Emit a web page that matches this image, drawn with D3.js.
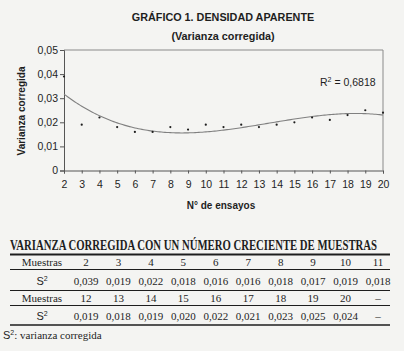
<!DOCTYPE html>
<html>
<head>
<meta charset="utf-8">
<script src="https://cdn.jsdelivr.net/npm/d3@7"></script>
<style>
  body { margin: 0; background: #f4f4f2; }
  svg { display: block; }
  .sans { font-family: 'Liberation Sans', Arial, sans-serif; fill: #1e1e1e; }
  .serif { font-family: 'Liberation Serif', 'Times New Roman', serif; fill: #1e1e1e; }
</style>
</head>
<body>
<div id="chart"></div>
<script>
// data
const ensayos = [2, 3, 4, 5, 6, 7, 8, 9, 10, 11, 12, 13, 14, 15, 16, 17, 18, 19, 20];
const varianza = [0.039, 0.019, 0.022, 0.018, 0.016, 0.016, 0.018, 0.017, 0.019, 0.018,
  0.019, 0.018, 0.019, 0.020, 0.022, 0.021, 0.023, 0.025, 0.024];
const yTicks = [0, 0.01, 0.02, 0.03, 0.04, 0.05];
const rSquared = '0,6818';
const titulo = 'GRÁFICO 1. DENSIDAD APARENTE';
const subtitulo = '(Varianza corregida)';
const tablaTitulo = 'VARIANZA CORREGIDA CON UN NÚMERO CRECIENTE DE MUESTRAS';

// dimensions
const width = 404;
const height = 351;
const plot = { left: 64, right: 383, top: 50, bottom: 170.5 };
const INK = '#1e1e1e';

const locale = d3.formatLocale({ decimal: ',', thousands: '.', grouping: [3], currency: ['', ''] });
const fmtY = d => (d === 0 ? '0' : locale.format('.2f')(d));
const fmtT = locale.format('.3f');

// least squares polynomial (excel trendline, order 3 -> R2 0.6818)
function polyFit(xs, ys, order) {
  const n = order + 1;
  const A = d3.range(n).map(() => new Array(n + 1).fill(0));
  xs.forEach((xv, k) => {
    for (let i = 0; i < n; i++) {
      for (let j = 0; j < n; j++) A[i][j] += Math.pow(xv, i + j);
      A[i][n] += ys[k] * Math.pow(xv, i);
    }
  });
  for (let i = 0; i < n; i++) {
    let p = i;
    for (let r = i + 1; r < n; r++) if (Math.abs(A[r][i]) > Math.abs(A[p][i])) p = r;
    [A[i], A[p]] = [A[p], A[i]];
    for (let r = 0; r < n; r++) {
      if (r === i) continue;
      const f = A[r][i] / A[i][i];
      for (let c = i; c <= n; c++) A[r][c] -= f * A[i][c];
    }
  }
  const coef = A.map((row, i) => row[n] / row[i]);
  return xv => coef.reduce((s, c, i) => s + c * Math.pow(xv, i), 0);
}

const svg = d3.select('#chart').append('svg').attr('width', width).attr('height', height);
svg.append('rect').attr('width', width).attr('height', height).attr('fill', '#f4f4f2');

// scales
const x = d3.scaleLinear().domain([2, 20]).range([plot.left, plot.right]);
const y = d3.scaleLinear().domain([0, 0.05]).range([plot.bottom, plot.top]);

// titles
svg.append('text').attr('class', 'sans').attr('x', 223).attr('y', 21)
  .attr('text-anchor', 'middle').attr('font-weight', 'bold').attr('font-size', 10.8)
  .text(titulo);
svg.append('text').attr('class', 'sans').attr('x', 223).attr('y', 40)
  .attr('text-anchor', 'middle').attr('font-weight', 'bold').attr('font-size', 10.8)
  .text(subtitulo);

// plot frame
svg.append('path')
  .attr('d', `M${plot.left},${plot.top}H${plot.right}V${plot.bottom}`)
  .attr('fill', 'none').attr('stroke', '#8a8a8a').attr('stroke-width', 1);

// axes
const $yAxis = svg.append('g')
  .attr('transform', `translate(${plot.left},0)`)
  .call(d3.axisLeft(y).tickValues(yTicks).tickSize(4).tickPadding(2).tickFormat(fmtY));
const $xAxis = svg.append('g')
  .attr('transform', `translate(0,${plot.bottom})`)
  .call(d3.axisBottom(x).tickValues(ensayos).tickSize(3).tickPadding(7).tickFormat(d3.format('d')));

[$yAxis, $xAxis].forEach($a => {
  $a.attr('font-family', "'Liberation Sans', Arial, sans-serif").attr('font-size', 10.5);
  $a.selectAll('path, line').attr('stroke', '#555');
  $a.selectAll('text').attr('fill', INK);
});

svg.append('text').attr('class', 'sans')
  .attr('transform', 'translate(25,111) rotate(-90)')
  .attr('text-anchor', 'middle').attr('font-weight', 'bold').attr('font-size', 10)
  .text('Varianza corregida');
svg.append('text').attr('class', 'sans').attr('x', 221).attr('y', 209)
  .attr('text-anchor', 'middle').attr('font-weight', 'bold').attr('font-size', 10)
  .text('N° de ensayos');

// trendline (x centred for stability)
const trend = polyFit(ensayos.map(e => e - 11), varianza, 3);
const curve = d3.range(2, 20.01, 0.1).map(e => [e, trend(e - 11)]);
svg.append('path')
  .datum(curve)
  .attr('fill', 'none').attr('stroke', '#808080').attr('stroke-width', 1.1)
  .attr('d', d3.line().x(d => x(d[0])).y(d => y(d[1])));

svg.append('g').selectAll('circle')
  .data(ensayos)
  .join('circle')
  .attr('cx', d => x(d))
  .attr('cy', (d, i) => y(varianza[i]))
  .attr('r', 1.1)
  .attr('fill', INK);

const $r2 = svg.append('text').attr('class', 'sans').attr('x', 320).attr('y', 86).attr('font-size', 10.5);
$r2.append('tspan').text('R');
$r2.append('tspan').attr('dy', -4).attr('font-size', 7).text('2');
$r2.append('tspan').attr('dy', 4).text(` = ${rSquared}`);

// table
svg.append('text').attr('class', 'serif')
  .attr('transform', 'translate(10,250) scale(1,1.25)')
  .attr('font-weight', 'bold').attr('font-size', 11)
  .attr('textLength', 367).attr('lengthAdjust', 'spacingAndGlyphs')
  .text(tablaTitulo);

const rules = [
  { y: 254.5, w: 2 },
  { y: 269.5, w: 1 },
  { y: 290.5, w: 1.2 },
  { y: 305.5, w: 1 },
  { y: 325, w: 1.6 },
];
svg.append('g').selectAll('line')
  .data(rules)
  .join('line')
  .attr('x1', 10).attr('x2', 390)
  .attr('y1', d => d.y).attr('y2', d => d.y)
  .attr('stroke', INK).attr('stroke-width', d => d.w);

const col = d3.scalePoint().domain(d3.range(10)).range([86, 378]);
const half = 10;
const rows = [
  { label: 'Muestras', y: 266, cells: ensayos.slice(0, half).map(String) },
  { label: 'S2', y: 285, cells: varianza.slice(0, half).map(fmtT) },
  { label: 'Muestras', y: 302, cells: ensayos.slice(half).map(String).concat('–') },
  { label: 'S2', y: 320, cells: varianza.slice(half).map(fmtT).concat('–') },
];

rows.forEach(r => {
  if (r.label === 'S2') {
    const $s = svg.append('text').attr('class', 'sans').attr('x', 42).attr('y', r.y)
      .attr('text-anchor', 'middle').attr('font-size', 11);
    $s.append('tspan').text('S');
    $s.append('tspan').attr('dy', -4).attr('font-size', 7).text('2');
  } else {
    svg.append('text').attr('class', 'serif').attr('x', 42).attr('y', r.y)
      .attr('text-anchor', 'middle').attr('font-size', 11).text(r.label);
  }
  svg.append('g').selectAll('text')
    .data(r.cells)
    .join('text')
    .attr('class', 'serif')
    .attr('x', (d, i) => col(i))
    .attr('y', r.y)
    .attr('text-anchor', 'middle')
    .attr('font-size', 11)
    .text(d => d);
});

const $foot = svg.append('text').attr('x', 3).attr('y', 339).attr('font-size', 11);
$foot.append('tspan').attr('class', 'sans').text('S');
$foot.append('tspan').attr('class', 'sans').attr('dy', -4).attr('font-size', 7).text('2');
$foot.append('tspan').attr('class', 'serif').attr('dy', 4).text(': varianza corregida');
</script>
</body>
</html>
